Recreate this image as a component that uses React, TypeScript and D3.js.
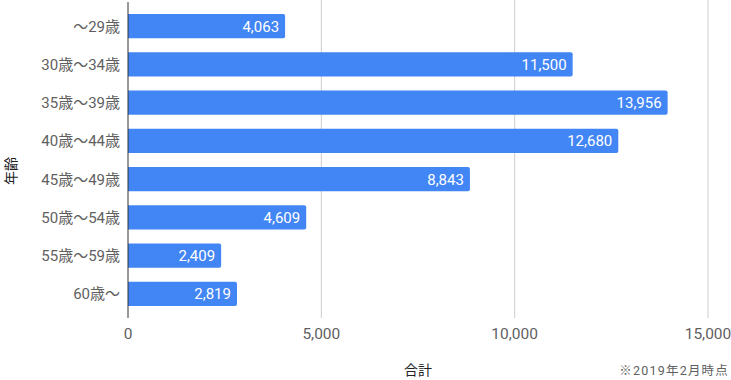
import React from "react";
import * as d3 from "d3";

const categories = ["～29歳", "30歳～34歳", "35歳～39歳", "40歳～44歳", "45歳～49歳", "50歳～54歳", "55歳～59歳", "60歳～"];
const values = [4063, 11500, 13956, 12680, 8843, 4609, 2409, 2819];
const xTicks = [0, 5000, 10000, 15000];

const W = 731, H = 380;
const left = 128, right = 708, top = 7, bottom = 313;

export default function App() {
  const x = d3.scaleLinear().domain([0, 15000]).range([left, right]);
  const y = d3.scaleBand().domain(categories).range([top, bottom]).paddingInner(0.37).paddingOuter(0.185);
  const fmt = d3.format(",");
  const font = "Roboto, 'Noto Sans CJK JP', sans-serif";
  return (
    <svg width={W} height={H} style={{ position: "absolute", left: 0, top: 0, fontFamily: font }}>
      <rect width={W} height={H} fill="#fff" />
      {xTicks.filter(t => t > 0).map(t => (
        <line key={t} x1={x(t)} x2={x(t)} y1={0} y2={318} stroke="#cccccc" strokeWidth={1} />
      ))}
      {categories.map((c, i) => {
        const y0 = y(c)!;
        const w = x(values[i]) - x(0);
        const r = 2;
        const bx = x(0), bh = y.bandwidth();
        const d = `M${bx},${y0} H${bx + w - r} Q${bx + w},${y0} ${bx + w},${y0 + r} V${y0 + bh - r} Q${bx + w},${y0 + bh} ${bx + w - r},${y0 + bh} H${bx} Z`;
        return (
          <g key={c}>
            <path d={d} fill="#4285f4" />
            <text x={bx + w - 6} y={y0 + bh / 2} dy="0.36em" textAnchor="end" fill="#fff" fontSize={15}>{fmt(values[i])}</text>
            <text x={left - 8} y={y0 + bh / 2} dy="0.36em" textAnchor="end" fill="#5f5f5f" fontSize={15}>{c}</text>
          </g>
        );
      })}
      <line x1={x(0)} x2={x(0)} y1={2} y2={318} stroke="#333" strokeWidth={1} />
      {xTicks.map(t => (
        <text key={t} x={x(t)} y={339} textAnchor="middle" fill="#5f5f5f" fontSize={15.5}>{fmt(t)}</text>
      ))}
      <text x={418} y={375} textAnchor="middle" fill="#222" fontSize={14}>合計</text>
      <text x={729} y={375} textAnchor="end" fill="#5f5f5f" fontSize={12.5} letterSpacing={1.2}>※2019年2月時点</text>
      <text transform="translate(16,171) rotate(-90)" textAnchor="middle" fill="#222" fontSize={14}>年齢</text>
    </svg>
  );
}
